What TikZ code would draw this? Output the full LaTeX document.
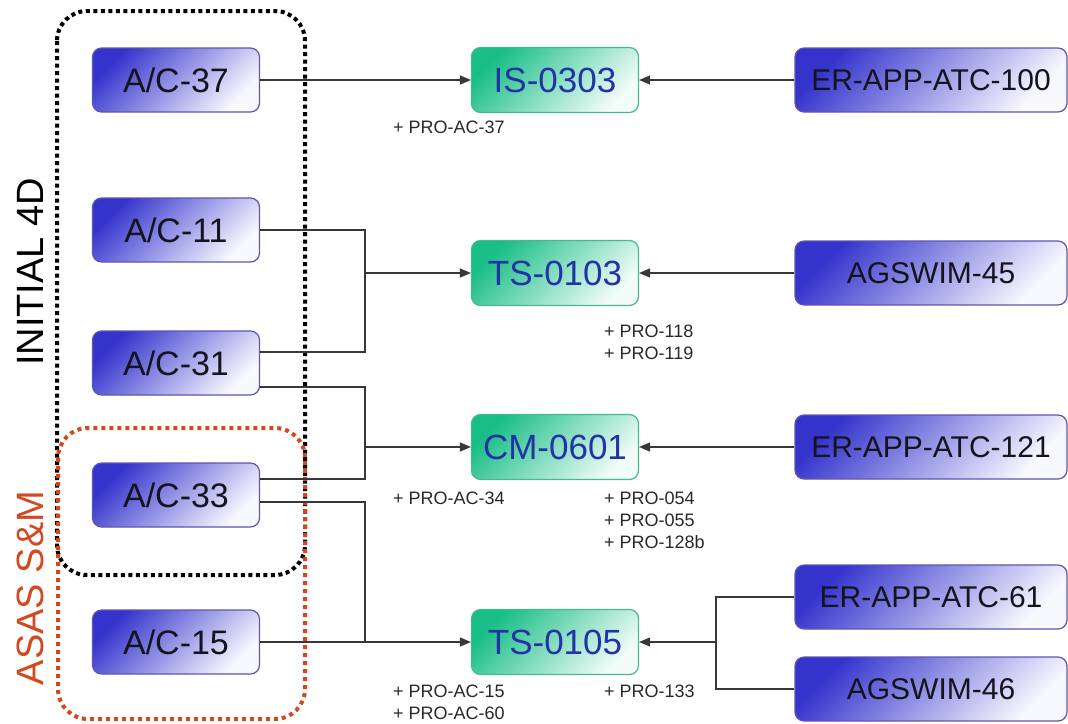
\documentclass[tikz,border=0pt]{standalone}
\usepackage{fontspec}
\setmainfont{Liberation Sans}
\usetikzlibrary{arrows.meta,shadings}
\definecolor{acdark}{RGB}{52,52,205}
\definecolor{aclight}{RGB}{248,248,255}
\definecolor{acborder}{RGB}{95,85,175}
\definecolor{actext}{RGB}{20,20,30}
\definecolor{tldark}{RGB}{25,190,135}
\definecolor{tllight}{RGB}{242,252,248}
\definecolor{tlborder}{RGB}{70,185,145}
\definecolor{tltext}{RGB}{35,50,165}
\definecolor{conncol}{RGB}{55,55,55}
\definecolor{lblcol}{RGB}{40,40,40}
\definecolor{asasred}{RGB}{212,72,32}
\begin{document}
\begin{tikzpicture}[x=1pt,y=-1pt,
  shadedbox/.style={rounded corners=9pt, inner sep=0pt, line width=1.2pt, shading angle=45},
  acbox/.style={shadedbox, draw=acborder, top color=acdark, bottom color=aclight, shading angle=45,
    minimum width=167pt, minimum height=64pt, text=actext, font=\fontsize{34}{40}\selectfont},
  srcbox/.style={shadedbox, draw=acborder, top color=acdark, bottom color=aclight, shading angle=45,
    minimum width=272pt, minimum height=64pt, text=actext, font=\fontsize{30}{36}\selectfont},
  tlbox/.style={shadedbox, draw=tlborder, top color=tldark, bottom color=tllight, shading angle=45,
    minimum width=167pt, minimum height=65pt, text=tltext, font=\fontsize{35}{40}\selectfont},
  conn/.style={draw=conncol, line width=1.3pt},
  arr/.style={conn, -{Triangle[length=11pt,width=9pt]}},
  lbl/.style={anchor=base west, inner sep=0pt, text=lblcol, font=\fontsize{18}{22}\selectfont},
  grp/.style={rotate=90, inner sep=0pt, font=\fontsize{38}{44}\selectfont}
]
\useasboundingbox (0,0) rectangle (1068,723);

% group frames
\draw[black, line width=4pt, dash pattern=on 4pt off 3.5pt, rounded corners=30pt] (57,11) rectangle (305,575);
\draw[asasred, line width=4pt, dash pattern=on 4pt off 4pt, rounded corners=30pt] (58,428) rectangle (305,719);

\node[grp, text=black] (init) at (30,272) {INITIAL 4D};
\node[grp, text=asasred] (asas) at (30,588) {ASAS S\&M};

% left nodes
\node[acbox] (ac37) at (176,80) {A/C-37};
\node[acbox] (ac11) at (176,230) {A/C-11};
\node[acbox] (ac31) at (176,363) {A/C-31};
\node[acbox] (ac33) at (176,495) {A/C-33};
\node[acbox] (ac15) at (176,642) {A/C-15};

% middle nodes
\node[tlbox] (is0303) at (555,80) {IS-0303};
\node[tlbox] (ts0103) at (555,273) {TS-0103};
\node[tlbox] (cm0601) at (555,447) {CM-0601};
\node[tlbox] (ts0105) at (555,642) {TS-0105};

% right nodes
\node[srcbox] (er100) at (931,80) {ER-APP-ATC-100};
\node[srcbox] (ag45) at (931,273) {AGSWIM-45};
\node[srcbox] (er121) at (931,447) {ER-APP-ATC-121};
\node[srcbox] (er61) at (931,597) {ER-APP-ATC-61};
\node[srcbox] (ag46) at (931,689) {AGSWIM-46};

% junctions
\coordinate (j1) at (365,273);
\coordinate (j2) at (365,447);
\coordinate (j3) at (365,642);
\coordinate (j4) at (716,642);

% connectors
\draw[arr] (ac37.east) -- (is0303.west);
\draw[arr] (er100.west) -- (is0303.east);

\draw[conn] (ac11.east) -| (j1) |- ([yshift=11pt]ac31.east);
\draw[arr] (j1) -- (ts0103.west);
\draw[arr] (ag45.west) -- (ts0103.east);

\draw[conn] ([yshift=-24pt]ac31.east) -| (j2) |- ([yshift=16pt]ac33.east);
\draw[arr] (j2) -- (cm0601.west);
\draw[arr] (er121.west) -- (cm0601.east);

\draw[conn] ([yshift=-7pt]ac33.east) -| (j3);
\draw[arr] (ac15.east) -- (ts0105.west);

\draw[conn] (er61.west) -| (j4) |- (ag46.west);
\draw[arr] (j4) -- (ts0105.east);

% labels
\node[lbl] (l1) at (393,133) {+ PRO-AC-37};
\node[lbl] (l2) at (604,337) {+ PRO-118};
\node[lbl] (l3) at (604,359) {+ PRO-119};
\node[lbl] (l4) at (393,504) {+ PRO-AC-34};
\node[lbl] (l5) at (604,504) {+ PRO-054};
\node[lbl] (l6) at (604,526) {+ PRO-055};
\node[lbl] (l7) at (604,548) {+ PRO-128b};
\node[lbl] (l8) at (393,697) {+ PRO-AC-15};
\node[lbl] (l9) at (393,719) {+ PRO-AC-60};
\node[lbl] (l10) at (604,697) {+ PRO-133};
\end{tikzpicture}
\end{document}
